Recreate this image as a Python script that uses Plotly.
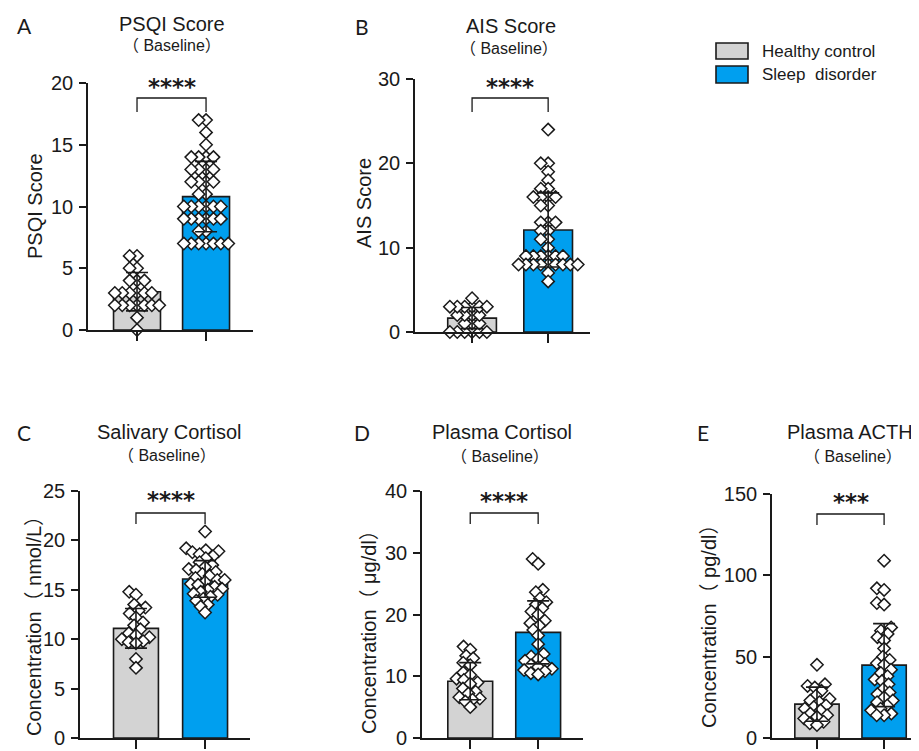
import math
import plotly.graph_objects as go

W, H = 919, 751
GROUPS = ["Healthy control", "Sleep  disorder"]
BAR_COLORS = ["#D3D3D3", "#009FEF"]

# ---------------- data ----------------
psqi_hc = [0, 1, 2, 2, 2, 2, 2, 2, 2, 3, 3, 3, 3, 3, 3, 4, 4, 4, 5, 5, 6, 6]
psqi_sd = [17, 17, 16, 15, 14, 14, 14, 14, 13, 13, 13, 13, 12, 12, 12, 12, 11, 11,
           10, 10, 10, 10, 10, 10, 9, 9, 9, 9, 9, 9, 8, 8, 7, 7, 7, 7, 7, 7, 7]
psqi_mean = [3.1, 10.8]
psqi_sdv = [1.55, 2.85]

ais_hc = [0, 0, 0, 0, 0, 0, 1, 1, 1, 2, 2, 2, 2, 3, 3, 3, 3, 3, 3, 4]
ais_sd = [24, 20, 20, 19, 18, 17, 17, 16, 16, 16, 16, 15, 15, 13, 13, 13, 12, 12, 11, 11,
          10, 9, 9, 9, 9, 9, 9, 8, 8, 8, 8, 8, 8, 8, 8, 8, 7, 6]
ais_mean = [1.65, 12.1]
ais_sdv = [1.25, 4.4]

sal_hc = [14.8, 14.5, 13.5, 13.2, 12.9, 12.6, 12.2, 11.7, 11.4, 11.0, 10.6, 10.4, 10.2,
          10.0, 9.8, 9.7, 9.6, 8.0, 7.1]
sal_sd = [20.9, 19.2, 19.0, 18.9, 18.8, 18.6, 18.4, 18.2, 17.8, 17.5, 17.3, 17.1, 17.0,
          16.8, 16.6, 16.4, 16.2, 16.0, 16.0, 15.8, 15.6, 15.5, 15.3, 15.1, 15.0, 14.8,
          14.6, 14.5, 14.3, 14.1, 13.9, 13.5, 13.3, 12.7]
sal_mean = [11.1, 16.1]
sal_sdv = [2.0, 1.85]

pcort_hc = [14.8, 14.3, 13.3, 12.9, 12.2, 11.8, 10.6, 10.2, 9.6, 9.4, 9.0, 8.8, 8.0, 7.5,
            7.2, 6.6, 6.4, 6.2, 5.9, 5.0]
pcort_sd = [29.0, 28.2, 24.0, 23.6, 22.6, 22.0, 21.6, 21.0, 20.5, 20.0, 19.0, 18.6, 18.2,
            17.5, 16.6, 15.2, 13.6, 13.2, 12.8, 12.5, 12.0, 11.8, 11.5, 11.2, 11.0, 10.8,
            10.5, 10.3]
pcort_mean = [9.2, 17.1]
pcort_sdv = [3.0, 5.1]

acth_hc = [45, 33, 32, 31, 29, 26, 24, 23, 22, 20, 19, 18, 17, 15, 14, 13, 12, 10, 9, 8]
acth_sd = [109, 92, 91, 83, 82, 68, 66, 64, 62, 60, 55, 50, 48, 46, 45, 42, 40, 38, 36, 35,
           33, 30, 28, 27, 25, 23, 22, 20, 18, 17, 15, 14, 14]
acth_mean = [20.8, 44.8]
acth_sdv = [10.5, 25.5]

titles = ["PSQI Score", "AIS Score", "Salivary Cortisol", "Plasma Cortisol", "Plasma ACTH"]
letters = ["A", "B", "C", "D", "E"]
ytitles = ["PSQI Score", "AIS Score", "Concentration（ nmol/L）",
           "Concentration（ μg/dl）", "Concentration（ pg/dl）"]
yticks = [[0, 5, 10, 15, 20], [0, 10, 20, 30], [0, 5, 10, 15, 20, 25],
          [0, 10, 20, 30, 40], [0, 50, 100, 150]]
sig = ["****", "****", "****", "****", "***"]

points = [(psqi_hc, psqi_sd), (ais_hc, ais_sd), (sal_hc, sal_sd),
          (pcort_hc, pcort_sd), (acth_hc, acth_sd)]
means = [psqi_mean, ais_mean, sal_mean, pcort_mean, acth_mean]
sds = [psqi_sdv, ais_sdv, sal_sdv, pcort_sdv, acth_sdv]

# ---------------- layout (pixel geometry, in target-image pixels) ----------------
geo = [
    dict(box=(88, 253, 83, 330), xr=(-0.71, 1.68), bw=0.68, br=(98, 112), star=82,
         ttl=(172, 24), base=(172, 46), let=(24, 25), yt=(35, 206)),
    dict(box=(415, 590, 79, 332), xr=(-0.75, 1.55), bw=0.64, br=(98, 112), star=82,
         ttl=(511, 26), base=(509, 48), let=(362, 27), yt=(364, 203)),
    dict(box=(80, 250, 491, 738), xr=(-0.81, 1.65), bw=0.65, br=(513, 524), star=495,
         ttl=(169, 432), base=(167, 455), let=(24, 432), yt=(34, 621)),
    dict(box=(422, 583, 491, 738), xr=(-0.71, 1.66), bw=0.66, br=(513, 524), star=496,
         ttl=(502, 432), base=(500, 456), let=(362, 432), yt=(369, 627)),
    dict(box=(772, 919, 494, 738), xr=(-0.67, 1.52), bw=0.66, br=(514, 525), star=497,
         ttl=(850, 432), base=(853, 456), let=(703, 432), yt=(709, 622)),
]
OFF = 8  # page offset of the figure inside the browser window

FONT = "Liberation Sans, Arial, Noto Sans CJK SC, sans-serif"
INK = "#1a1a1a"


def swarm_offsets(vals, py, d):
    idx = sorted(range(len(vals)), key=lambda i: vals[i])
    placed = []
    out = [0.0] * len(vals)
    for i in idx:
        y = vals[i] * py
        cands = [0.0]
        for (qx, qy) in placed:
            dy = abs(y - qy)
            if dy < d:
                dx = math.sqrt(d * d - dy * dy)
                cands += [qx + dx, qx - dx]
        cands.sort(key=lambda c: (abs(c), c))
        for c in cands:
            if all((c - qx) ** 2 + (y - qy) ** 2 >= d * d - 1e-6 for qx, qy in placed):
                out[i] = c
                placed.append((c, y))
                break
    return out


def px(x):
    return min(1.0, max(0.0, (x - OFF) / W))


def py_(y):
    return min(1.0, max(0.0, 1 - (y - OFF) / H))


fig = go.Figure()
annotations = []
shapes = []

for k in range(5):
    g = geo[k]
    x0, x1, yt, yb = g["box"]
    ymax = yticks[k][-1]
    xa = "x" if k == 0 else f"x{k+1}"
    ya = "y" if k == 0 else f"y{k+1}"
    xunit = (x1 - x0) / (g["xr"][1] - g["xr"][0])
    yunit = (yb - yt) / ymax

    fig.add_trace(go.Bar(
        x=[0, 1], y=means[k], width=g["bw"], xaxis=xa, yaxis=ya,
        marker=dict(color=BAR_COLORS, line=dict(color=INK, width=1.6)),
        showlegend=False, hoverinfo="skip"))

    for gi in range(2):
        vals = points[k][gi]
        offs = swarm_offsets(vals, yunit, 7.4)
        fig.add_trace(go.Scatter(
            x=[gi + o / xunit for o in offs], y=vals, mode="markers",
            xaxis=xa, yaxis=ya, cliponaxis=False, showlegend=False,
            marker=dict(symbol="diamond", size=9.5, color="white",
                        line=dict(color=INK, width=1.5))))

    fig.add_trace(go.Scatter(
        x=[0, 1], y=means[k], mode="markers", xaxis=xa, yaxis=ya,
        marker=dict(size=1, color="rgba(0,0,0,0)"), showlegend=False,
        error_y=dict(type="data", array=sds[k], color=INK, thickness=1.6, width=11)))

    # significance bracket
    btop = (yb - g["br"][0]) / yunit
    blow = (yb - g["br"][1]) / yunit
    shapes.append(dict(type="path", xref=xa, yref=ya,
                       path=f"M 0,{blow} L 0,{btop} L 1,{btop} L 1,{blow}",
                       line=dict(color=INK, width=1.3)))
    annotations.append(dict(x=0.5, y=(yb - g["star"] - 5) / yunit, xref=xa, yref=ya,
                            text="<b>" + sig[k] + "</b>", showarrow=False, yanchor="middle",
                            font=dict(family="DejaVu Sans", size=23, color=INK)))

    # titles
    annotations.append(dict(x=px(g["ttl"][0]), y=py_(g["ttl"][1]), xref="paper", yref="paper",
                            text=titles[k], showarrow=False, xanchor="center", yanchor="middle",
                            font=dict(family=FONT, size=20, color=INK)))
    annotations.append(dict(x=px(g["base"][0]), y=py_(g["base"][1]), xref="paper", yref="paper",
                            text="（ Baseline）", showarrow=False, xanchor="center", yanchor="middle",
                            font=dict(family=FONT, size=16, color=INK)))
    annotations.append(dict(x=px(g["let"][0]), y=py_(g["let"][1]), xref="paper", yref="paper",
                            text=letters[k], showarrow=False, xanchor="center", yanchor="middle",
                            font=dict(family="Lato, Open Sans, sans-serif", size=21, color=INK)))
    annotations.append(dict(x=px(g["yt"][0]), y=py_(g["yt"][1]), xref="paper", yref="paper",
                            text=ytitles[k], showarrow=False, textangle=-90,
                            xanchor="center", yanchor="middle",
                            font=dict(family=FONT, size=20, color=INK)))

    axis_common = dict(showgrid=False, zeroline=False, showline=True, linecolor=INK,
                       linewidth=1.6, ticks="outside", tickcolor=INK, tickwidth=1.5,
                       automargin=False)
    fig.update_layout(**{
        ("xaxis" if k == 0 else f"xaxis{k+1}"): dict(
            axis_common, domain=[px(x0), px(x1)], range=list(g["xr"]), anchor=ya,
            tickvals=[0, 1], showticklabels=False, ticklen=9, fixedrange=True),
        ("yaxis" if k == 0 else f"yaxis{k+1}"): dict(
            axis_common, domain=[py_(yb), py_(yt)], range=[0, ymax], anchor=xa,
            tickvals=yticks[k], ticklen=7, ticklabelstandoff=2,
            tickfont=dict(family=FONT, size=20, color=INK), fixedrange=True),
    })

# legend (manual)
leg = [(43, 59, 52), (66, 83, 75)]
for gi in range(2):
    y0, y1, yc = leg[gi]
    shapes.append(dict(type="rect", xref="paper", yref="paper",
                       x0=px(716), x1=px(748), y0=py_(y1), y1=py_(y0),
                       fillcolor=BAR_COLORS[gi], line=dict(color=INK, width=1.6)))
    annotations.append(dict(x=px(760), y=py_(yc), xref="paper", yref="paper",
                            text=GROUPS[gi], showarrow=False, xanchor="left", yanchor="middle",
                            font=dict(family=FONT, size=17, color=INK)))

fig.update_layout(width=W, height=H, margin=dict(l=0, r=0, t=0, b=0, pad=0),
                  paper_bgcolor="white", plot_bgcolor="white",
                  barmode="overlay", showlegend=False,
                  annotations=annotations, shapes=shapes)

fig.write_html("out.html")
